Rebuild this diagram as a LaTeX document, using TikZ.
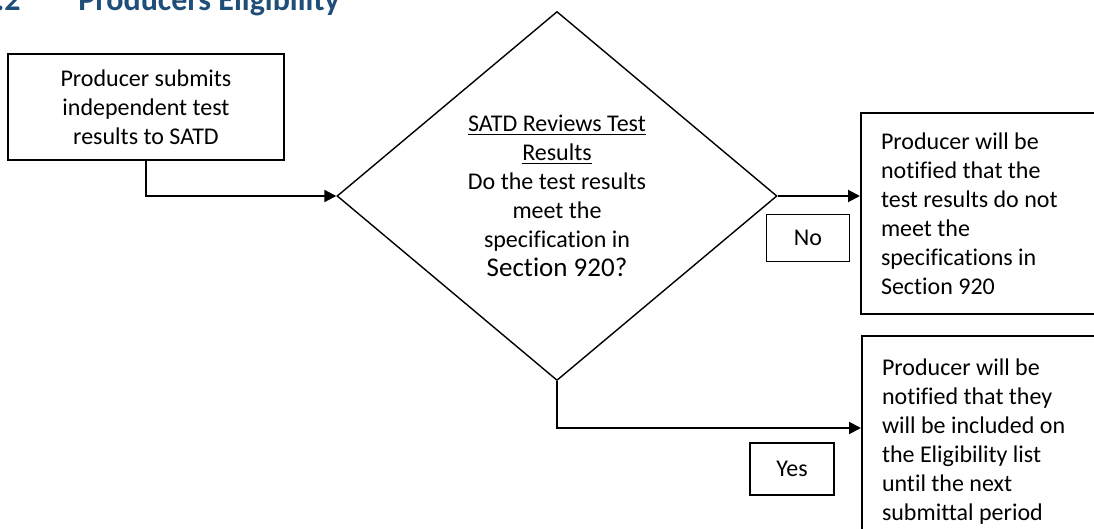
\documentclass[tikz,border=0pt]{standalone}
\usepackage{fontspec}
\setmainfont[Ligatures=NoCommon]{Carlito}
\usetikzlibrary{shapes.geometric,arrows.meta,calc}
\definecolor{headblue}{HTML}{1F4E79}

\begin{document}
\begin{tikzpicture}
[x=0.5pt,y=-0.5pt,>={Triangle[length=6pt,width=6pt]},
box/.style={draw,line width=1pt,font=\fontsize{12}{14.5}\selectfont},
tag/.style={draw,line width=0.8pt,font=\fontsize{12}{14.5}\selectfont,inner sep=0pt},
conn/.style={->,line width=1pt},]

\useasboundingbox (0,0) rectangle (1094,529);

%Heading
\node (num) at (21,11)[anchor=base east,inner sep=0pt,text=headblue,font=\fontsize{16}{19}\selectfont\bfseries] {.2};
\node (head) at (78,11)[anchor=base west,inner sep=0pt,text=headblue,font=\fontsize{16}{19}\selectfont\bfseries] {Producers Eligibility};

%Start box
\node (submit) at (146,107)[box,minimum width=138pt,minimum height=53pt,align=center] {Producer submits\\independent test\\results to SATD};

%Decision
\node (review) at (557,196)[draw,diamond,line width=0.7pt,minimum width=220pt,minimum height=184.5pt,inner sep=0pt,align=center,font=\fontsize{12}{14.5}\selectfont] {\underline{SATD Reviews Test}\\\underline{Results}\\Do the test results\\meet the\\specification in\\{\fontsize{13.5}{14.5}\selectfont Section 920?}};

%Outcome boxes
\node (notmet) at (860,112)[box,anchor=north west,minimum width=130pt,minimum height=100.5pt,inner xsep=10pt,text width=110pt,align=flush left] {Producer will be\\notified that the\\test results do not\\meet the\\specifications in\\Section 920};
\node (listed) at (861,335)[box,anchor=north west,minimum width=130pt,minimum height=106pt,inner xsep=10pt,text width=110pt,align=flush left] {Producer will be\\notified that they\\will be included on\\the Eligibility list\\until the next\\submittal period};

%Labels
\node (no) at (808,238)[tag,minimum width=41.5pt,minimum height=23.5pt] {No};
\node (yes) at (792,469)[tag,minimum width=42pt,minimum height=26pt] {Yes};

%Connectors
\coordinate (yesin) at (861,428);
\draw[conn] (submit.south) |- (review.west);
\draw[conn] (review.east) -- (review.east -| notmet.west);
\draw[conn] (review.south) |- (yesin);

\end{tikzpicture}
\end{document}
